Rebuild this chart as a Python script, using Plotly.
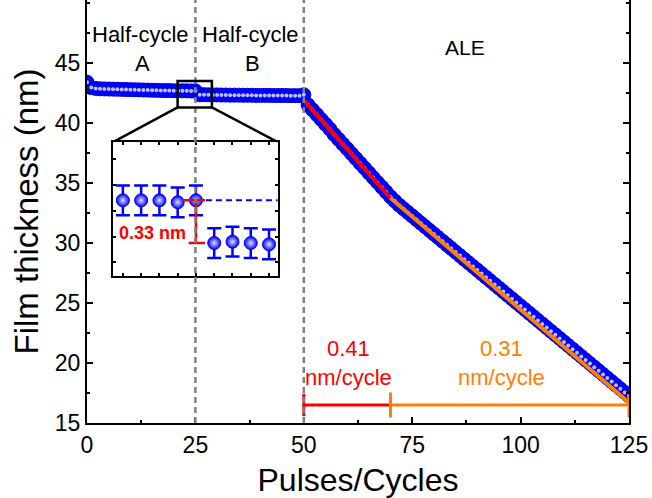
import plotly.graph_objects as go

# ---------------- data ----------------
pulses = list(range(0, 51))
thickness_pulses = [
    43.40, 42.95, 42.88, 42.85, 42.84, 42.83, 42.82, 42.81, 42.80, 42.79,
    42.78, 42.77, 42.76, 42.75, 42.74, 42.73, 42.72, 42.71, 42.70, 42.70,
    42.69, 42.68, 42.68, 42.68, 42.67, 42.68, 42.35, 42.36, 42.35, 42.34,
    42.34, 42.33, 42.33, 42.32, 42.32, 42.32, 42.31, 42.31, 42.31, 42.30,
    42.30, 42.30, 42.30, 42.29, 42.29, 42.29, 42.29, 42.28, 42.28, 42.28,
    42.35,
]
cycles = list(range(51, 126))
thickness_cycles = [
    41.50, 41.10, 40.70, 40.30, 39.90, 39.50, 39.05, 38.65, 38.25, 37.85,
    37.45, 37.05, 36.65, 36.25, 35.85, 35.45, 35.05, 34.65, 34.25, 33.85,
    33.50, 33.15, 32.85, 32.55, 32.25, 31.95, 31.65, 31.35, 31.05, 30.75,
    30.45, 30.15, 29.85, 29.55, 29.25, 28.95, 28.65, 28.35, 28.05, 27.75,
    27.45, 27.15, 26.85, 26.55, 26.25, 25.95, 25.65, 25.35, 25.05, 24.75,
    24.45, 24.15, 23.85, 23.55, 23.25, 22.95, 22.65, 22.35, 22.05, 21.75,
    21.45, 21.15, 20.85, 20.55, 20.25, 19.95, 19.65, 19.35, 19.05, 18.75,
    18.45, 18.15, 17.85, 17.55, 17.25,
]

fit1_x = [50, 70]
fit1_y = [41.9, 33.75]
fit2_x = [70, 125]
fit2_y = [33.75, 16.7]

bracket_y = 16.5
rate1_label = "0.41<br>nm/cycle"
rate2_label = "0.31<br>nm/cycle"

half_cycle_bounds = [25, 50]

# zoom window on the main plot
zoom_x = [20.9, 28.8]
zoom_y = [41.3, 43.5]

# inset data
inset_x = [21, 22, 23, 24, 25, 26, 27, 28, 29]
inset_y = [42.68, 42.68, 42.68, 42.665, 42.68, 42.35, 42.36, 42.35, 42.34]
inset_err = [0.115] * 9
inset_xrange = [20.46, 29.48]
inset_yrange = [42.095, 43.13]
step_label = "0.33 nm"
step_top = 42.68
step_bottom = 42.35

x_range = [0, 125]
y_range = [15, 50.25]
x_ticks = [0, 25, 50, 75, 100, 125]
y_ticks = [15, 20, 25, 30, 35, 40, 45]

inset_dom_x = [0.048, 0.352]
inset_dom_y = [0.3475, 0.664]

FONT = "Arial, Liberation Sans, sans-serif"
BLUE = "#0000FF"
RED = "#FF0000"
ORANGE = "#FF8000"

fig = go.Figure()

all_x = pulses + cycles
all_y = thickness_pulses + thickness_cycles

fig.add_trace(go.Scatter(x=all_x, y=all_y, mode="markers",
                         marker=dict(color=BLUE, size=14, symbol="circle",
                                     line=dict(color="#0000E0", width=1)),
                         showlegend=False))
# sphere highlights
fig.add_trace(go.Scatter(x=all_x, y=all_y, mode="markers",
                         marker=dict(color="#b8c0ff", size=4, symbol="circle",
                                     line=dict(width=0)),
                         showlegend=False))

fig.add_trace(go.Scatter(x=fit1_x, y=fit1_y, mode="lines",
                         line=dict(color=RED, width=4), showlegend=False))
fig.add_trace(go.Scatter(x=fit2_x, y=fit2_y, mode="lines",
                         line=dict(color=ORANGE, width=4), showlegend=False))

# brackets at the bottom
fig.add_trace(go.Scatter(x=fit1_x, y=[bracket_y] * 2, mode="lines+markers",
                         line=dict(color=RED, width=3),
                         marker=dict(symbol="line-ns", size=16, line=dict(color=RED, width=3)),
                         showlegend=False))
fig.add_trace(go.Scatter(x=fit2_x, y=[bracket_y] * 2, mode="lines+markers",
                         line=dict(color=ORANGE, width=3),
                         marker=dict(symbol="line-ns", size=18, line=dict(color=ORANGE, width=3)),
                         showlegend=False))

# connector lines from zoom box to inset
ix0 = x_range[0] + inset_dom_x[0] * (x_range[1] - x_range[0])
ix1 = x_range[0] + inset_dom_x[1] * (x_range[1] - x_range[0])
iy1 = y_range[0] + inset_dom_y[1] * (y_range[1] - y_range[0])
fig.add_trace(go.Scatter(x=[zoom_x[0], ix0, None, zoom_x[1], ix1],
                         y=[zoom_y[0], iy1, None, zoom_y[0], iy1],
                         mode="lines", line=dict(color="black", width=2.5),
                         showlegend=False))

# inset
fig.add_trace(go.Scatter(x=[25, inset_xrange[1]], y=[step_top, step_top],
                         mode="lines", line=dict(color=BLUE, width=2, dash="6px,4px"),
                         xaxis="x2", yaxis="y2", showlegend=False))
fig.add_trace(go.Scatter(x=inset_x, y=inset_y, mode="markers",
                         marker=dict(color=BLUE, size=13, line=dict(color=BLUE, width=1),
                                     gradient=dict(type="radial", color="#dfe3ff")),
                         error_y=dict(type="data", array=inset_err, color=BLUE,
                                      thickness=2.5, width=7),
                         xaxis="x2", yaxis="y2", showlegend=False))
fig.add_trace(go.Scatter(x=[24.3, 25.5, None, 25, 25, None, 24.6, 25.5],
                         y=[step_top, step_top, None, step_top, step_bottom, None,
                            step_bottom, step_bottom],
                         mode="lines", line=dict(color=RED, width=2.5),
                         xaxis="x2", yaxis="y2", showlegend=False))

annotations = [
    dict(x=12.45, y=47.35, text="Half-cycle", xref="x", yref="y", showarrow=False,
         font=dict(size=22, color="black", family=FONT)),
    dict(x=12.9, y=45.0, text="A", xref="x", yref="y", showarrow=False,
         font=dict(size=22, color="black", family=FONT)),
    dict(x=37.6, y=47.35, text="Half-cycle", xref="x", yref="y", showarrow=False,
         font=dict(size=22, color="black", family=FONT)),
    dict(x=38.2, y=45.0, text="B", xref="x", yref="y", showarrow=False,
         font=dict(size=22, color="black", family=FONT)),
    dict(x=87.2, y=46.3, text="ALE", xref="x", yref="y", showarrow=False,
         font=dict(size=21, color="black", family=FONT)),
    dict(x=60.4, y=20.0, text=rate1_label, xref="x", yref="y", showarrow=False,
         font=dict(size=22, color=RED, family=FONT)),
    dict(x=95.6, y=20.0, text=rate2_label, xref="x", yref="y", showarrow=False,
         font=dict(size=22, color=ORANGE, family=FONT)),
    dict(x=22.6, y=42.43, text="<b>" + step_label + "</b>", xref="x2", yref="y2",
         showarrow=False, font=dict(size=18, color=RED, family=FONT)),
]

shapes = []
for xb in half_cycle_bounds:
    shapes.append(dict(type="line", xref="x", yref="paper", x0=xb, x1=xb, y0=0, y1=1,
                       line=dict(color="#808080", width=2.5, dash="6px,4px"), layer="above"))
shapes.append(dict(type="rect", xref="x", yref="y", x0=zoom_x[0], x1=zoom_x[1],
                   y0=zoom_y[0], y1=zoom_y[1], line=dict(color="black", width=2.5),
                   layer="above"))

fig.update_layout(
    width=652, height=498,
    margin=dict(l=87, r=23, t=0, b=75),
    paper_bgcolor="white", plot_bgcolor="white",
    font=dict(family=FONT, color="black"),
    annotations=annotations, shapes=shapes,
    xaxis=dict(range=x_range, tickvals=x_ticks, ticks="inside", ticklen=6, tickwidth=2,
               tickcolor="black", showline=True, linewidth=2, linecolor="black",
               showgrid=False, zeroline=False, tickfont=dict(size=23),
               minor=dict(ticks="inside", ticklen=3, tickwidth=2, tickcolor="black",
                          tick0=0, dtick=12.5),
               title=dict(text="Pulses/Cycles", font=dict(size=32), standoff=12)),
    yaxis=dict(range=y_range, tickvals=y_ticks, ticks="inside", ticklen=6, tickwidth=2,
               tickcolor="black", showline=True, linewidth=2, linecolor="black",
               mirror="ticks", showgrid=False, zeroline=False, tickfont=dict(size=23),
               minor=dict(ticks="inside", ticklen=3, tickwidth=2, tickcolor="black",
                          tick0=15, dtick=2.5),
               title=dict(text="Film thickness (nm)", font=dict(size=33), standoff=6)),
    xaxis2=dict(domain=inset_dom_x, anchor="y2", range=inset_xrange,
                tickvals=inset_x, ticks="inside", ticklen=3, tickwidth=1.5,
                tickcolor="black", showticklabels=False, showline=True, linewidth=2,
                linecolor="black", mirror="ticks", showgrid=False, zeroline=False),
    yaxis2=dict(domain=inset_dom_y, anchor="x2", range=inset_yrange,
                dtick=0.2, ticks="inside", ticklen=3, tickwidth=1.5,
                tickcolor="black", showticklabels=False, showline=True, linewidth=2,
                linecolor="black", mirror="ticks", showgrid=False, zeroline=False),
)

fig.write_html("out.html")
